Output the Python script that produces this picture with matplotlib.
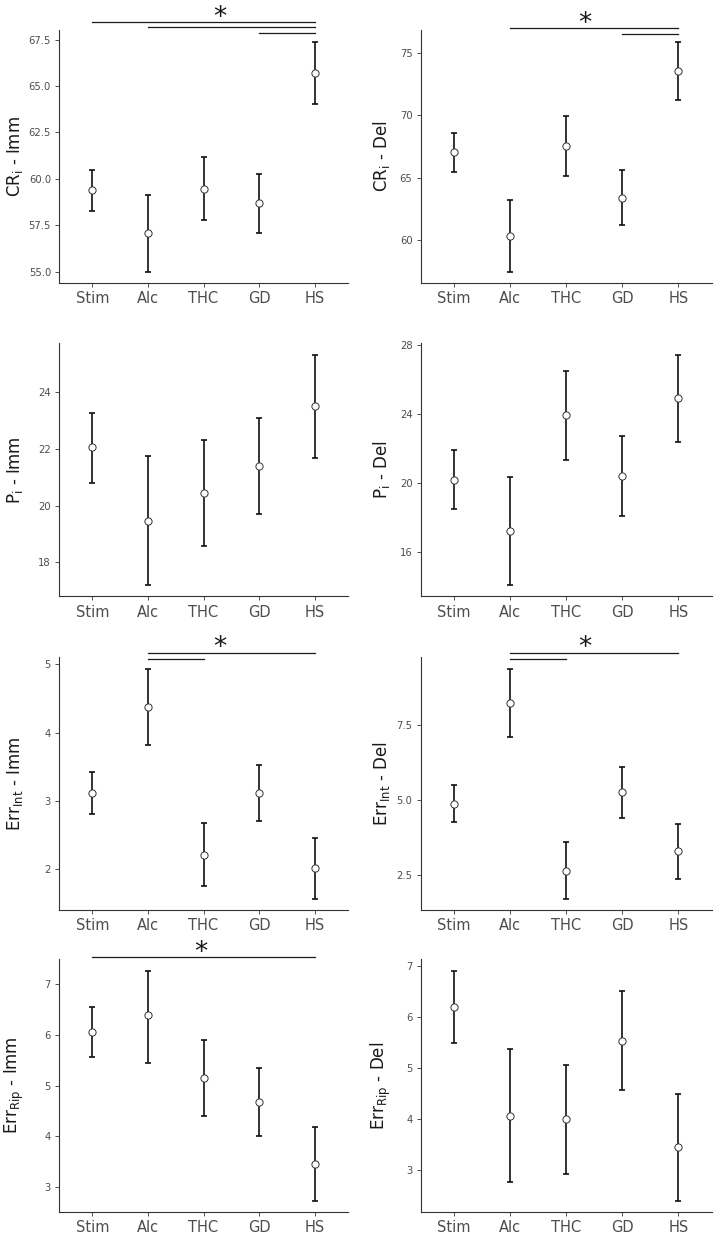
import numpy as np
import matplotlib
matplotlib.use("Agg")
import matplotlib.pyplot as plt
import matplotlib.transforms as mtransforms

plt.rcParams['font.family'] = ['DejaVu Sans']
plt.rcParams['mathtext.default'] = 'regular'

groups = ["Stim", "Alc", "THC", "GD", "HS"]

cri_imm_mean = [59.38, 57.06, 59.47, 58.68, 65.71]
cri_imm_lo = [58.26, 55.00, 57.76, 57.10, 64.02]
cri_imm_hi = [60.49, 59.14, 61.19, 60.25, 67.41]

cri_del_mean = [67.03, 60.32, 67.54, 63.37, 73.58]
cri_del_lo = [65.45, 57.46, 65.16, 61.18, 71.20]
cri_del_hi = [68.58, 63.21, 69.95, 65.59, 75.91]

pi_imm_mean = [22.05, 19.47, 20.45, 21.39, 23.50]
pi_imm_lo = [20.81, 17.20, 18.59, 19.71, 21.69]
pi_imm_hi = [23.28, 21.75, 22.33, 23.08, 25.33]

pi_del_mean = [20.19, 17.20, 23.92, 20.39, 24.93]
pi_del_lo = [18.49, 14.07, 21.35, 18.05, 22.40]
pi_del_hi = [21.89, 20.33, 26.51, 22.72, 27.46]

errint_imm_mean = [3.12, 4.38, 2.21, 3.12, 2.01]
errint_imm_lo = [2.81, 3.82, 1.75, 2.71, 1.57]
errint_imm_hi = [3.42, 4.94, 2.68, 3.53, 2.46]

errint_del_mean = [4.87, 8.26, 2.63, 5.27, 3.28]
errint_del_lo = [4.25, 7.12, 1.70, 4.41, 2.37]
errint_del_hi = [5.49, 9.41, 3.58, 6.12, 4.21]

errrip_imm_mean = [6.05, 6.39, 5.15, 4.67, 3.46]
errrip_imm_lo = [5.56, 5.45, 4.40, 4.00, 2.74]
errrip_imm_hi = [6.54, 7.26, 5.89, 5.35, 4.19]

errrip_del_mean = [6.20, 4.06, 3.99, 5.53, 3.44]
errrip_del_lo = [5.48, 2.77, 2.91, 4.56, 2.40]
errrip_del_hi = [6.91, 5.37, 5.06, 6.50, 4.48]

# y tick values per panel
cri_imm_ticks = [55.0, 57.5, 60.0, 62.5, 65.0, 67.5]
cri_del_ticks = [60, 65, 70, 75]
pi_imm_ticks = [18, 20, 22, 24]
pi_del_ticks = [16, 20, 24, 28]
errint_imm_ticks = [2, 3, 4, 5]
errint_del_ticks = [2.5, 5.0, 7.5]
errrip_imm_ticks = [3, 4, 5, 6, 7]
errrip_del_ticks = [3, 4, 5, 6, 7]

# significance brackets: (from group, to group, height in axes fraction)
cri_imm_sig = [(0, 4, 1.032), (1, 4, 1.011), (3, 4, 0.988)]
cri_del_sig = [(1, 4, 1.008), (3, 4, 0.985)]
errint_imm_sig = [(1, 4, 1.014), (1, 2, 0.992)]
errint_del_sig = [(1, 4, 1.014), (1, 2, 0.992)]
errrip_imm_sig = [(0, 4, 1.006)]

W, H = 721, 1240
fig = plt.figure(figsize=(W / 100, H / 100), dpi=100)

rows = [(30, 283), (343, 596.5), (657, 910), (959, 1212)]
cols = [(59, 348), (420.5, 712)]
label_x = [14.5, 381]

panels = [
    (0, 0, cri_imm_mean, cri_imm_lo, cri_imm_hi, cri_imm_ticks, "CR$_{i}$ - Imm", "%.1f", cri_imm_sig, (2.29, 1.047)),
    (0, 1, cri_del_mean, cri_del_lo, cri_del_hi, cri_del_ticks, "CR$_{i}$ - Del", "%d", cri_del_sig, (2.33, 1.022)),
    (1, 0, pi_imm_mean, pi_imm_lo, pi_imm_hi, pi_imm_ticks, "P$_{i}$ - Imm", "%d", [], None),
    (1, 1, pi_del_mean, pi_del_lo, pi_del_hi, pi_del_ticks, "P$_{i}$ - Del", "%d", [], None),
    (2, 0, errint_imm_mean, errint_imm_lo, errint_imm_hi, errint_imm_ticks, "Err$_{Int}$ - Imm", "%d", errint_imm_sig, (2.29, 1.034)),
    (2, 1, errint_del_mean, errint_del_lo, errint_del_hi, errint_del_ticks, "Err$_{Int}$ - Del", "%.1f", errint_del_sig, (2.34, 1.034)),
    (3, 0, errrip_imm_mean, errrip_imm_lo, errrip_imm_hi, errrip_imm_ticks, "Err$_{Rip}$ - Imm", "%d", errrip_imm_sig, (1.95, 1.024)),
    (3, 1, errrip_del_mean, errrip_del_lo, errrip_del_hi, errrip_del_ticks, "Err$_{Rip}$ - Del", "%d", [], None),
]

x = np.arange(len(groups))

for r, c, mean, lo, hi, ticks, ylab, fmt, sig, star in panels:
    top, bot = rows[r]
    left, right = cols[c]
    ax = fig.add_axes([left / W, 1 - bot / H, (right - left) / W, (bot - top) / H])
    mean = np.array(mean)
    lo = np.array(lo)
    hi = np.array(hi)

    ax.errorbar(x, mean, yerr=[mean - lo, hi - mean], fmt='none', ecolor='#111111',
                elinewidth=1.2, capsize=2.2, capthick=1.2, zorder=2)
    ax.plot(x, mean, 'o', ms=5.2, mfc='white', mec='#333333', mew=0.7, zorder=3)

    pad = 0.05 * (hi.max() - lo.min())
    ax.set_ylim(lo.min() - pad, hi.max() + pad)
    ax.set_xlim(-0.6, len(groups) - 0.4)

    ax.set_xticks(x)
    ax.set_xticklabels(groups, fontsize=10.5, color='#4d4d4d')
    ax.set_yticks(ticks)
    ax.set_yticklabels([fmt % t for t in ticks], fontsize=7.2, color='#4d4d4d')
    ax.tick_params(length=2.8, width=0.6, color='#333333', pad=3)

    for side in ['top', 'right']:
        ax.spines[side].set_visible(False)
    for side in ['left', 'bottom']:
        ax.spines[side].set_linewidth(0.8)
        ax.spines[side].set_color('#333333')

    ax.set_ylabel(ylab, fontsize=12, color='#1a1a1a', va='center')
    ax.yaxis.set_label_coords((label_x[c] - left) / (right - left), 0.5)

    trans = mtransforms.blended_transform_factory(ax.transData, ax.transAxes)
    for i, j, yy in sig:
        ax.plot([x[i], x[j]], [yy, yy], color='#1a1a1a', lw=0.9, transform=trans, clip_on=False)
    if star is not None:
        ax.text(star[0], star[1], "*", fontsize=19, ha='center', va='center',
                transform=trans, color='#1a1a1a')

fig.savefig("out.png", dpi=100)
